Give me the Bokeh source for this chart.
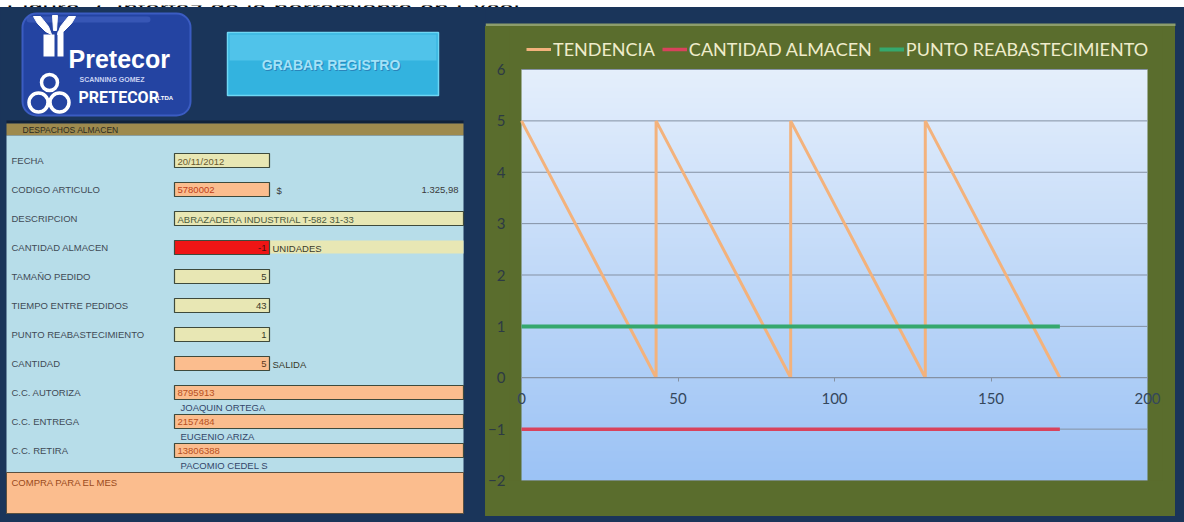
import numpy as np
from bokeh.plotting import figure
from bokeh.layouts import row, column
from bokeh.models import Range1d, LinearAxis, FixedTicker, Legend, LegendItem
from bokeh.core.properties import value
from bokeh.embed import file_html
from bokeh.resources import INLINE

# ---------------- chart data ----------------
tendencia_x = [0, 43, 43, 86, 86, 129, 129, 172]
tendencia_y = [5, 0, 5, 0, 5, 0, 5, 0]
almacen_x = [0, 172]
almacen_y = [-1, -1]
punto_x = [0, 172]
punto_y = [1, 1]
x_ticks = [0, 50, 100, 150, 200]
y_ticks = [-2, -1, 0, 1, 2, 3, 4, 5, 6]
series_names = ["TENDENCIA", "CANTIDAD ALMACEN", "PUNTO REABASTECIMIENTO"]

# ---------------- form contents ----------------
form_labels = ["FECHA", "CODIGO ARTICULO", "DESCRIPCION", "CANTIDAD ALMACEN",
               "TAMAÑO PEDIDO", "TIEMPO ENTRE PEDIDOS", "PUNTO REABASTECIMIENTO",
               "CANTIDAD", "C.C. AUTORIZA", "C.C. ENTREGA", "C.C. RETIRA"]
form_values = ["20/11/2012", "5780002", "ABRAZADERA INDUSTRIAL T-582 31-33", "-1",
               "5", "43", "1", "5", "8795913", "2157484", "13806388"]
cc_names = ["JOAQUIN ORTEGA", "EUGENIO ARIZA", "PACOMIO CEDEL S"]
precio = "1.325,98"

NAVY = "#1a355a"
OLIVE = "#5a6d2d"
FORM_BLUE = "#b7dde9"
PALE = "#e8e7b4"
PEACH = "#fbbd8e"
RED_CELL = "#ef1515"
KHAKI = "#9e8a4e"
LABEL_C = "#3f4a56"
GRID_C = "#8491a3"
FONT = value("Liberation Sans")


def panel(w, h, fill, y0=0):
    p = figure(width=w, height=h, x_range=Range1d(0, w), y_range=Range1d(y0 + h, y0),
               x_axis_type=None, y_axis_type=None, output_backend="svg",
               toolbar_location=None, min_border=0, outline_line_color=None,
               background_fill_color=fill, border_fill_color=fill)
    p.styles = {"background-color": fill}
    return p


# ---------------- caption strip ----------------
top = panel(1184, 7, "white")
top.text(x=[6], y=[3], text=["Figura 3. Interfaz de la herramienta en Excel"],
         text_font=FONT, text_font_size="26px", text_color="black",
         text_baseline="alphabetic")

# ---------------- left form ----------------
left = panel(485, 515, NAVY, y0=7)

# logo block
left.quad(left=22, right=190, top=13, bottom=115, fill_color="#2444a2",
          line_color="#3b5cc2", line_width=2, border_radius=14)
left.quad(left=26, right=150, top=16, bottom=22, fill_color="#4a68c8",
          fill_alpha=0.5, line_color=None, border_radius=4)
# emblem
left.patches(xs=[[33, 40, 48, 51, 45, 37], [75, 68, 60, 57, 63, 71], [52, 57, 56, 53]],
             ys=[[16, 16, 26, 34, 31, 23], [16, 16, 26, 34, 31, 23], [15, 15, 30, 30]],
             fill_color="white", line_color="white")
left.quad(left=[43, 57], right=[54, 63], top=[34, 31], bottom=[56, 56],
          fill_color="white", line_color=None)
left.text(x=[68], y=[58], text=["Pretecor"], text_font=FONT, text_font_size="25px",
          text_font_style="bold", text_color="white", text_baseline="alphabetic")
# rings
left.circle(x=[49, 38, 59], y=[82, 102, 102], radius=[8, 9.5, 9.5],
            fill_color=None, line_color="white", line_width=3.5)
left.text(x=[79], y=[79], text=["SCANNING GOMEZ"], text_font=FONT, text_font_size="7px",
          text_font_style="bold", text_color="#c9d3f2", text_baseline="alphabetic")
left.text(x=[78], y=[97], text=["PRETECOR"], text_font=value("Roboto"),
          text_font_size="16px", text_font_style="bold", text_color="white",
          text_baseline="alphabetic")
left.text(x=[157], y=[97], text=["LTDA"], text_font=FONT, text_font_size="6px",
          text_font_style="bold", text_color="white", text_baseline="alphabetic")

# button
left.quad(left=227, right=438, top=32, bottom=95, fill_color="#33b3df",
          line_color="#6fd7f4", line_width=1.5)
left.quad(left=229, right=436, top=34, bottom=60, fill_color="#5ccbee",
          fill_alpha=0.7, line_color=None)
left.text(x=[333.5], y=[65], text=["GRABAR  REGISTRO"], text_font=FONT,
          text_font_size="14px", text_font_style="bold", text_color="#2a85ba",
          text_align="center", text_baseline="middle")
left.text(x=[332.5], y=[64], text=["GRABAR  REGISTRO"], text_font=FONT,
          text_font_size="14px", text_font_style="bold", text_color="#a3e2f8",
          text_align="center", text_baseline="middle")

# header bar and form body
left.quad(left=6, right=463, top=120, bottom=123, fill_color="#10223a", line_color=None)
left.quad(left=6, right=463, top=123, bottom=135, fill_color=KHAKI, line_color=None)
left.text(x=[22], y=[129.5], text=["DESPACHOS ALMACEN"], text_font=FONT,
          text_font_size="8.5px", text_color="#2c2a1e", text_baseline="middle")
left.quad(left=6, right=463, top=135, bottom=472, fill_color=FORM_BLUE, line_color=None)
left.quad(left=6, right=463, top=472, bottom=513, fill_color=PEACH,
          line_color="#5a5040", line_width=1)
left.text(x=[11], y=[482], text=["COMPRA PARA EL MES"], text_font=FONT,
          text_font_size="9.5px", text_color="#9a4a1c", text_baseline="middle")

row_y = [160 + 29 * i for i in range(len(form_labels))]
left.text(x=[11] * len(form_labels), y=row_y, text=form_labels, text_font=FONT,
          text_font_size="9.5px", text_color=LABEL_C, text_baseline="middle")

fills = [PALE, PEACH, PALE, RED_CELL, PALE, PALE, PALE, PEACH, PEACH, PEACH, PEACH]
rights = [269, 269, 463, 269, 269, 269, 269, 269, 463, 463, 463]
right_aligned = [False, False, False, True, True, True, True, True, False, False, False]
val_colors = ["#6a5a30", "#c0401a", "#4a5a40", "#4a1010", "#3a3a2a", "#3a3a2a",
              "#3a3a2a", "#5a3a20", "#b8501e", "#b8501e", "#b8501e"]

# band behind UNIDADES
left.quad(left=269, right=463, top=row_y[3] - 7, bottom=row_y[3] + 6,
          fill_color=PALE, line_color=None)
left.quad(left=[174] * len(row_y), right=rights, top=[y - 7 for y in row_y],
          bottom=[y + 7 for y in row_y], fill_color=fills, line_color="#3e4a3c",
          line_width=1.2)
for i, v in enumerate(form_values):
    if right_aligned[i]:
        left.text(x=[266], y=[row_y[i] + 0.5], text=[v], text_font=FONT,
                  text_font_size="9.5px", text_color=val_colors[i],
                  text_align="right", text_baseline="middle")
    else:
        left.text(x=[177], y=[row_y[i] + 0.5], text=[v], text_font=FONT,
                  text_font_size="9.5px", text_color=val_colors[i],
                  text_baseline="middle")

left.text(x=[276], y=[row_y[1] + 0.5], text=["$"], text_font=FONT,
          text_font_size="9.5px", text_color="#3a3a3a", text_baseline="middle")
left.text(x=[458], y=[row_y[1] + 0.5], text=[precio], text_font=FONT,
          text_font_size="9.5px", text_color="#3a3a3a", text_align="right",
          text_baseline="middle")
left.text(x=[272, 272], y=[row_y[3] + 0.5, row_y[7] + 0.5], text=["UNIDADES", "SALIDA"],
          text_font=FONT, text_font_size="9.5px", text_color="#3a3a2a",
          text_baseline="middle")
left.text(x=[180] * 3, y=[row_y[8] + 15, row_y[9] + 15, row_y[10] + 15], text=cc_names,
          text_font=FONT, text_font_size="9.5px", text_color="#34466a",
          text_baseline="middle")

# ---------------- chart ----------------
# The frame covers the plot area plus a thin olive margin on each side (so the
# end tick labels are not clipped) and the olive strip above it that holds the
# legend.  The plot area proper spans x = 0..200 and y = -2..6.
X_MIN, X_MAX = x_ticks[0], x_ticks[-1]
Y_MIN, Y_MAX = y_ticks[0], y_ticks[-1]
PLOT_W, PLOT_H = 626, 411
PAD_L, PAD_R, PAD_T = 12, 15, 43
ppx = PLOT_W / (X_MAX - X_MIN)
ppy = PLOT_H / (Y_MAX - Y_MIN)
x_lo = X_MIN - PAD_L / ppx
x_hi = X_MAX + PAD_R / ppx
y_hi = Y_MAX + PAD_T / ppy

chart = figure(width=690, height=490, x_range=Range1d(x_lo, x_hi),
               y_range=Range1d(Y_MIN, y_hi),
               output_backend="svg", toolbar_location=None, x_axis_location=None,
               min_border_left=36 - PAD_L, min_border_right=28 - PAD_R,
               min_border_top=0, min_border_bottom=36,
               border_fill_color=OLIVE, background_fill_color=OLIVE,
               outline_line_color=None)
chart.styles = {"background-color": OLIVE}

# plot-area gradient (light at the top, deeper blue at the bottom)
n = 256
t = np.linspace(0.0, 1.0, n)[:, None]
c_bot = np.array([156, 195, 245])
c_top = np.array([229, 239, 252])
img = np.empty((n, 1), dtype=np.uint32)
view = img.view(dtype=np.uint8).reshape((n, 1, 4))
for k in range(3):
    view[:, :, k] = (c_bot[k] + (c_top[k] - c_bot[k]) * t).astype(np.uint8)
view[:, :, 3] = 255
chart.image_rgba(image=[img], x=X_MIN, y=Y_MIN, dw=X_MAX - X_MIN, dh=Y_MAX - Y_MIN,
                 level="image")

# horizontal gridlines limited to the plot area
chart.xgrid.visible = False
chart.ygrid.visible = False
chart.segment(x0=[X_MIN] * len(y_ticks), x1=[X_MAX] * len(y_ticks), y0=y_ticks,
              y1=y_ticks, line_color=GRID_C, line_width=1, level="underlay")

ya = chart.yaxis[0]
ya.ticker = FixedTicker(ticks=y_ticks)
ya.axis_line_color = None
ya.major_tick_line_color = None
ya.major_tick_out = 0
ya.major_tick_in = 0
ya.minor_tick_line_color = None
ya.minor_tick_out = 0
ya.major_label_standoff = 4
ya.major_label_text_font = "Lato"
ya.major_label_text_font_size = "15px"
ya.major_label_text_color = "#2d3a44"

xa = LinearAxis(fixed_location=0, ticker=FixedTicker(ticks=x_ticks),
                bounds=(X_MIN, X_MAX))
xa.axis_line_color = GRID_C
xa.major_tick_line_color = GRID_C
xa.major_tick_out = 4
xa.major_tick_in = 0
xa.minor_tick_line_color = None
xa.major_label_standoff = 11
xa.major_label_text_font = "Lato"
xa.major_label_text_font_size = "15px"
xa.major_label_text_color = "#34475c"
chart.add_layout(xa, "below")

r_tend = chart.line(tendencia_x, tendencia_y, line_color="#f3b27c", line_width=3)
r_alm = chart.line(almacen_x, almacen_y, line_color="#d8435c", line_width=3.5)
r_pto = chart.line(punto_x, punto_y, line_color="#35a86e", line_width=4)

legend = Legend(items=[LegendItem(label=series_names[0], renderers=[r_tend]),
                       LegendItem(label=series_names[1], renderers=[r_alm]),
                       LegendItem(label=series_names[2], renderers=[r_pto])],
                orientation="horizontal", location=(PAD_L + 5, PLOT_H + 9),
                background_fill_alpha=0, border_line_color=None,
                label_text_color="#efeccb", label_text_font="Lato",
                label_text_font_size="18px", glyph_width=25, glyph_height=20,
                label_standoff=2, spacing=7, padding=0, margin=0)
chart.add_layout(legend, "center")

navy_top = panel(699, 19, NAVY)
navy_top.quad(left=0, right=690, top=16, bottom=19, fill_color="#8c9d6c", line_color=None)
navy_right = panel(9, 490, NAVY)
navy_bottom = panel(699, 6, NAVY)

right_side = column(navy_top, row(chart, navy_right), navy_bottom)
page = column(top, row(left, right_side))

with open("out.html", "w") as f:
    f.write(file_html(page, INLINE))
